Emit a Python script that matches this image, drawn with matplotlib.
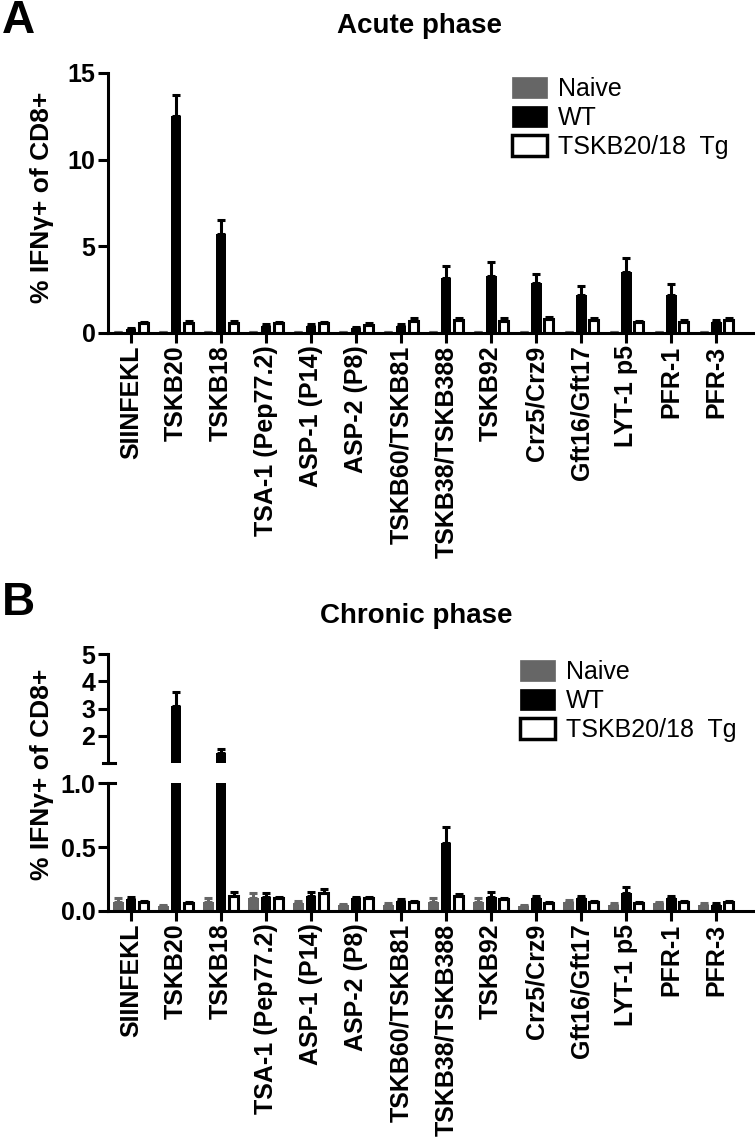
import matplotlib
matplotlib.use("Agg")
import matplotlib.pyplot as plt
from matplotlib.patches import Patch
import numpy as np

plt.rcParams['font.family'] = ['Liberation Sans', 'DejaVu Sans']

peptides = ["SIINFEKL", "TSKB20", "TSKB18", "TSA-1 (Pep77.2)", "ASP-1 (P14)", "ASP-2 (P8)",
            "TSKB60/TSKB81", "TSKB38/TSKB388", "TSKB92", "Crz5/Crz9", "Gft16/Gft17",
            "LYT-1 p5", "PFR-1", "PFR-3"]
groups = ["Naive", "WT", "TSKB20/18  Tg"]

# acute phase (panel A)
naive_acute = [0.03, 0.03, 0.03, 0.03, 0.04, 0.06, 0.03, 0.03, 0.03, 0.03, 0.03, 0.03, 0.03, 0.03]
naive_acute_err = [0.01, 0.01, 0.01, 0.01, 0.01, 0.01, 0.01, 0.01, 0.01, 0.01, 0.01, 0.01, 0.01, 0.01]
wt_acute = [0.22, 12.5, 5.7, 0.42, 0.42, 0.3, 0.42, 3.15, 3.3, 2.9, 2.2, 3.5, 2.2, 0.65]
wt_acute_err = [0.05, 1.25, 0.8, 0.08, 0.08, 0.06, 0.08, 0.7, 0.8, 0.5, 0.5, 0.85, 0.6, 0.1]
tg_acute = [0.55, 0.58, 0.6, 0.55, 0.55, 0.48, 0.72, 0.75, 0.72, 0.78, 0.75, 0.62, 0.65, 0.75]
tg_acute_err = [0.1, 0.1, 0.1, 0.1, 0.1, 0.1, 0.15, 0.12, 0.12, 0.12, 0.12, 0.1, 0.1, 0.12]

# chronic phase (panel B)
naive_chronic = [0.07, 0.04, 0.07, 0.10, 0.06, 0.045, 0.05, 0.07, 0.07, 0.04, 0.07, 0.05, 0.06, 0.05]
naive_chronic_err = [0.03, 0.01, 0.03, 0.04, 0.015, 0.01, 0.01, 0.03, 0.03, 0.01, 0.015, 0.01, 0.01, 0.015]
wt_chronic = [0.09, 3.1, 1.37, 0.11, 0.12, 0.10, 0.08, 0.53, 0.11, 0.10, 0.10, 0.14, 0.10, 0.05]
wt_chronic_err = [0.02, 0.5, 0.13, 0.03, 0.03, 0.01, 0.01, 0.13, 0.04, 0.02, 0.02, 0.05, 0.02, 0.01]
tg_chronic = [0.07, 0.06, 0.12, 0.10, 0.14, 0.10, 0.07, 0.12, 0.09, 0.06, 0.07, 0.06, 0.07, 0.07]
tg_chronic_err = [0.01, 0.01, 0.03, 0.01, 0.03, 0.01, 0.01, 0.01, 0.01, 0.01, 0.01, 0.01, 0.01, 0.01]

gray = '#666666'
W, H = 755, 1138
x = np.arange(len(peptides))
bw = 0.24
off = 0.28
lw = 2.2


def box(l, t, r, b):
    return [l / W, 1 - b / H, (r - l) / W, (b - t) / H]


def draw_bars(ax, naive, naive_err, wt, wt_err, tg, tg_err):
    z = np.zeros(len(x))
    ax.bar(x - off, naive, bw, color=gray, yerr=[z, naive_err],
           error_kw=dict(ecolor=gray, elinewidth=lw, capsize=3, capthick=lw))
    ax.bar(x, wt, bw, color='black', yerr=[z, wt_err],
           error_kw=dict(ecolor='black', elinewidth=lw, capsize=3, capthick=lw))
    ax.bar(x + off, tg, bw * 0.85, color='white', edgecolor='black', linewidth=lw, yerr=[z, tg_err],
           error_kw=dict(ecolor='black', elinewidth=lw, capsize=3, capthick=lw))


def style(ax):
    for s in ['top', 'right']:
        ax.spines[s].set_visible(False)
    for s in ['left', 'bottom']:
        ax.spines[s].set_linewidth(lw)
    ax.tick_params(width=lw, length=7, labelsize=18, pad=2)
    for t in ax.get_yticklabels():
        t.set_fontweight('bold')
    ax.set_xlim(-0.51, 13.84)


def legend(top, left):
    handles = [Patch(facecolor=gray, edgecolor=gray, linewidth=0.5),
               Patch(facecolor='black', edgecolor='black', linewidth=0.5),
               Patch(facecolor='white', edgecolor='black', linewidth=2.5)]
    fig.legend(handles, groups, loc='upper left', bbox_to_anchor=(left / W, 1 - top / H),
               frameon=False, fontsize=18, handlelength=1.4, handleheight=0.9,
               handletextpad=0.45, labelspacing=0.2, borderpad=0, borderaxespad=0)


fig = plt.figure(figsize=(7.55, 11.38), dpi=100)

# panel A
ax1 = fig.add_axes(box(108, 73, 754, 333))
draw_bars(ax1, naive_acute, naive_acute_err, wt_acute, wt_acute_err, tg_acute, tg_acute_err)
ax1.set_ylim(0, 15)
ax1.set_yticks([0, 5, 10, 15])
ax1.set_xticks(x)
ax1.set_xticklabels(peptides, rotation=90, fontweight='bold', fontsize=18)
style(ax1)

fig.text(2 / W, 1 - 33 / H, "A", fontsize=33, fontweight='bold', va='baseline')
fig.text(420 / W, 1 - 33 / H, "Acute phase", fontsize=20, fontweight='bold', ha='center', va='baseline')
fig.text(42 / W, 1 - 197 / H, "% IFNγ+ of CD8+", fontsize=19, fontweight='bold',
         rotation=90, ha='center', va='center')
legend(77, 512)

# panel B, broken y axis
ax_lo = fig.add_axes(box(108, 783, 754, 911))
ax_hi = fig.add_axes(box(108, 654, 754, 763))
for ax in [ax_lo, ax_hi]:
    draw_bars(ax, naive_chronic, naive_chronic_err, wt_chronic, wt_chronic_err, tg_chronic, tg_chronic_err)
ax_lo.set_ylim(0, 1.0)
ax_lo.set_yticks([0.0, 0.5, 1.0])
ax_lo.set_yticklabels(['0.0', '0.5', '1.0'])
ax_lo.set_xticks(x)
ax_lo.set_xticklabels(peptides, rotation=90, fontweight='bold', fontsize=18)
style(ax_lo)

ax_hi.set_ylim(1, 5)
ax_hi.set_yticks([2, 3, 4, 5])
ax_hi.set_xticks([])
style(ax_hi)
ax_hi.spines['bottom'].set_visible(False)

# break marks
ax_hi.plot([-0.008, 0.011], [0, 0], color='black', lw=lw, transform=ax_hi.transAxes, clip_on=False)
ax_lo.plot([0, 0.011], [1, 1], color='black', lw=lw, transform=ax_lo.transAxes, clip_on=False)

fig.text(2 / W, 1 - 615 / H, "B", fontsize=33, fontweight='bold', va='baseline')
fig.text(416 / W, 1 - 623 / H, "Chronic phase", fontsize=20, fontweight='bold', ha='center', va='baseline')
fig.text(42 / W, 1 - 774 / H, "% IFNγ+ of CD8+", fontsize=19, fontweight='bold',
         rotation=90, ha='center', va='center')
legend(660, 520)

fig.savefig('out.png', dpi=100)
